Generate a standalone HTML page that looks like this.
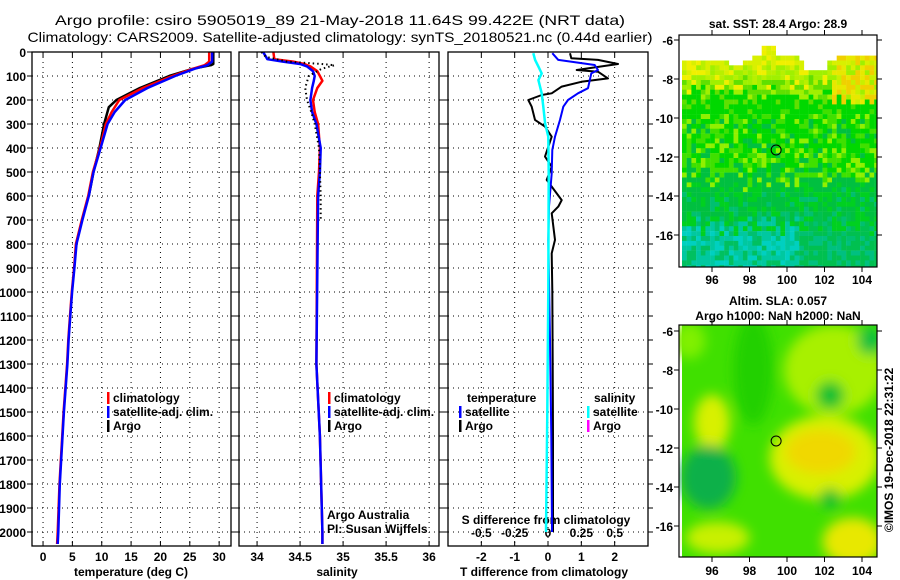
<!DOCTYPE html>
<html><head><meta charset="utf-8"><style>
html,body{margin:0;padding:0;background:#fff;}
svg{display:block;font-family:"Liberation Sans",sans-serif;}
.t{font-weight:bold;font-size:12px;}
</style></head><body>
<svg id="c" width="900" height="580" viewBox="0 0 900 580">
<defs>
<clipPath id="clipTop"><rect x="679" y="35" width="198" height="232"/></clipPath>
<clipPath id="clipBot"><rect x="679" y="325" width="198" height="232"/></clipPath>
<filter id="blur" x="-50%" y="-50%" width="200%" height="200%"><feGaussianBlur stdDeviation="6"/></filter>
</defs>
<text x="340" y="25" text-anchor="middle" font-size="14" textLength="570" lengthAdjust="spacingAndGlyphs">Argo profile: csiro 5905019_89 21-May-2018 11.64S 99.422E (NRT data)</text>
<text x="340" y="42" text-anchor="middle" font-size="14" textLength="625" lengthAdjust="spacingAndGlyphs">Climatology: CARS2009. Satellite-adjusted climatology: synTS_20180521.nc (0.44d earlier)</text>
<g id="plots"></g>
</svg>
<script>
// ---------- data ----------
const depthT = [0,40,55,70,100,150,200,250,300,400,500,600,700,800,900,1000,1100,1200,1300,1500,1800,2000,2050];
const climT = [28.3,28.3,27.5,25.5,22,17,13,11.7,10.7,9.7,8.5,7.7,6.6,5.6,5.3,4.9,4.6,4.3,4.1,3.5,2.8,2.5,2.4];
const satT  = [28.8,28.8,28,25.8,22.5,17.8,14,12.2,11,9.8,8.6,7.8,6.7,5.7,5.35,4.95,4.65,4.35,4.15,3.55,2.85,2.6,2.5];
const argoDepthT = [0,50,55,70,100,150,200,230,300,400,500,600];
const argoT = [29.0,29.0,28.6,25.5,21.5,16.5,12.5,11.2,10.4,9.6,8.6,7.8];
const depthS = [0,30,40,50,60,80,100,120,150,200,250,300,400,500,600,1300,1600,2000,2050];
const climS = [34.19,34.2,34.42,34.55,34.62,34.7,34.73,34.76,34.7,34.65,34.67,34.71,34.73,34.72,34.70,34.69,34.73,34.76,34.76];
const satS  = [34.07,34.12,34.3,34.5,34.58,34.65,34.67,34.66,34.64,34.62,34.64,34.69,34.74,34.73,34.71,34.69,34.73,34.76,34.76];
const argoDepthS = [0,20,40,50,55,70,100,150,200,250,300,400,500,600,700];
const argoS = [34.05,34.1,34.35,34.75,34.9,34.75,34.6,34.56,34.58,34.63,34.67,34.72,34.73,34.74,34.74];
const satDiffDepth = [5,33,54,75,89,151,172,200,228,283,353,408,506,644,783,1200,1600,2000];
const satDiffT = [0.13,0.31,1.4,1.5,1.3,1.2,0.9,0.6,0.46,0.36,0.21,0.13,0.11,0.03,0.01,0.06,0.1,0.12];
const argoDiffDepth = [5,26,33,50,75,82,110,124,144,172,179,200,228,283,311,353,436,478,533,617,644,672,783,839,992,1300,1600,2000];
const argoDiffT = [0.66,0.7,1.5,2.1,0.86,1.5,1.8,1.0,0.41,0.11,-0.19,-0.59,-0.49,-0.39,-0.09,0.11,-0.09,0.11,-0.04,0.41,0.31,0.11,0.21,0.11,0.13,0.14,0.15,0.15];
const satDiffSDepth = [5,33,61,89,117,172,228,297,353,506,992,1500,2000];
const satDiffS = [-0.11,-0.097,-0.072,-0.047,-0.072,-0.047,-0.035,-0.022,0.002,0.005,0.002,-0.005,-0.015];
const depthTicks = [0,100,200,300,400,500,600,700,800,900,1000,1100,1200,1300,1400,1500,1600,1700,1800,1900,2000];
const tTicks = [0,5,10,15,20,25,30];
const sTicks = [34,34.5,35,35.5,36];
const sTickLabels = ["34","34.5","35","35.5","36"];
const dTTicks = [-2,-1,0,1,2];
const dSTicks = [-0.5,-0.25,0,0.25,0.5];
const dSTickLabels = ["-0.5","-0.25","0","0.25","0.5"];
const lonTicks = [96,98,100,102,104];
const latTicks = [-6,-8,-10,-12,-14,-16];

const NS = "http://www.w3.org/2000/svg";
const root = document.getElementById('plots');
function mk(tag, attrs, parent){ const e=document.createElementNS(NS,tag); for(const k in attrs) e.setAttribute(k,attrs[k]); (parent||root).appendChild(e); return e; }
function txt(x,y,s,cls,anchor,parent){ const e=mk('text',{x:x,y:y,'text-anchor':anchor||'middle','class':cls||'t'},parent); e.textContent=s; return e; }

const TOP=52, BOT=546;
const yD = d => TOP + d*0.24;
const panels = [
  {x0:32,x1:231,min:-1.88,max:32.02},
  {x0:239,x1:439,min:33.79,max:36.115},
  {x0:448,x1:648,min:-3,max:3}
];
const sx = (p,v) => p.x0 + (v-p.min)/(p.max-p.min)*(p.x1-p.x0);

function grid(p, ticks){
  const g = mk('g',{});
  
  
  ticks.forEach(v=>{ const x=sx(p,v); mk('line',{x1:x,x2:x,y1:TOP,y2:BOT,stroke:'#000','stroke-width':1,'stroke-dasharray':'1,4'},g);
    mk('line',{x1:x,x2:x,y1:BOT,y2:BOT-5,stroke:'#000'},g); mk('line',{x1:x,x2:x,y1:TOP,y2:TOP+5,stroke:'#000'},g);});
  depthTicks.forEach(d=>{ if(d===0) return; const y=yD(d); mk('line',{x1:p.x0,x2:p.x1,y1:y,y2:y,stroke:'#000','stroke-width':1,'stroke-dasharray':'1,4'},g);
    mk('line',{x1:p.x0-5,x2:p.x0,y1:y,y2:y,stroke:'#000'},g); mk('line',{x1:p.x1,x2:p.x1+5,y1:y,y2:y,stroke:'#000'},g);});
}
function frame(p,name){ const r=mk('rect',{x:p.x0,y:TOP,width:p.x1-p.x0,height:BOT-TOP,fill:'none',stroke:'#000','stroke-width':1.3});
    }
function series(p, vals, depths, color, w, name, dash){
  let d=''; vals.forEach((v,i)=>{ d += (i?'L':'M') + sx(p,v).toFixed(1)+','+yD(depths[i]).toFixed(1); });
  const e = mk('path',{d:d,fill:'none',stroke:color,'stroke-width':w,'stroke-linejoin':'round'});
  if(dash) e.setAttribute('stroke-dasharray',dash);
  
  
}
function legendEntry(x,y,color,label,name){
  const g=mk('g',{});
  
  
  mk('rect',{x:x,y:y-10,width:2.5,height:12,fill:color},g);
  txt(x+6,y,label,'t','start',g);
}

const p1=panels[0], p2=panels[1], p3=panels[2];
grid(p1,tTicks); grid(p2,sTicks); grid(p3,dTTicks);
depthTicks.forEach(d=>{ const e=txt(26,yD(d)+5,String(d),'t','end');   });
mk('line',{x1:27,x2:32,y1:TOP,y2:TOP,stroke:'#000'});
tTicks.forEach(v=>{ const e=txt(sx(p1,v),561,String(v));   });
sTicks.forEach((v,i)=>{ const e=txt(sx(p2,v),561,sTickLabels[i]);   });
dTTicks.forEach(v=>{ const e=txt(sx(p3,v),561,String(v));   });
dSTicks.forEach((v,i)=>{ const e=txt(sx(p3,v*4),537,dSTickLabels[i]);   });
let e;
e=txt(131,576,'temperature (deg C)');  
e=txt(337,576,'salinity');  
e=txt(544,576,'T difference from climatology');  
e=txt(546,524,'S difference from climatology');  

series(p1,argoT,argoDepthT,'#000',2.5,'argo-temperature-line');
series(p1,climT,depthT,'#f00',2.5,'climatology-temperature-line');
series(p1,satT,depthT,'#00f',2.5,'satellite-temperature-line');
series(p2,climS,depthS,'#f00',2.5,'climatology-salinity-line');
series(p2,satS,depthS,'#00f',2.5,'satellite-salinity-line');
series(p2,argoS,argoDepthS,'#000',2,'argo-salinity-line','1.5,3');
series(p3,argoDiffT,argoDiffDepth,'#000',2,'argo-t-diff-line');
series(p3,satDiffT,satDiffDepth,'#00f',2,'satellite-t-diff-line');
series(p3,satDiffS.map(v=>v*4),satDiffSDepth,'#0ff',2.5,'satellite-s-diff-line');

frame(p1,'temperature-panel'); frame(p2,'salinity-panel'); frame(p3,'difference-panel');

legendEntry(107,402,'#f00','climatology','legend-climatology');
legendEntry(107,416,'#00f','satellite-adj. clim.','legend-satellite-adj');
legendEntry(107,430,'#000','Argo','legend-argo');
legendEntry(328,402,'#f00','climatology','legend-climatology-s');
legendEntry(328,416,'#00f','satellite-adj. clim.','legend-satellite-adj-s');
legendEntry(328,430,'#000','Argo','legend-argo-s');
e=txt(467,402,'temperature','t','start');  
legendEntry(459,416,'#00f','satellite','legend-t-satellite');
legendEntry(459,430,'#000','Argo','legend-t-argo');
e=txt(594,402,'salinity','t','start');  
legendEntry(587,416,'#0ff','satellite','legend-s-satellite');
legendEntry(587,430,'#f0f','Argo','legend-s-argo');
e=txt(327,519,'Argo Australia','', 'start'); e.setAttribute('font-size','12');  
e=txt(327,533,'PI: Susan Wijffels','', 'start'); e.setAttribute('font-size','12');  

// ---------- maps ----------
const lonX = lon => 712 + (lon-96)*18.75;
function latY(lat, top){ return top + (-6-lat)*19.5; }
function hash(i,j){ let h = ((i*73856093) ^ (j*19349663)) >>> 0; h = (h ^ (h>>>13)) * 1274126177 >>> 0; h = (h ^ (h>>>16)) >>> 0; return (h % 10007)/10007; }
function mapAxes(top, bottom, labelY, name){
  const g=mk('g',{});
  
  
  mk('rect',{x:679,y:bottom-232,width:198,height:232,fill:'none',stroke:'#000','stroke-width':1.2},g);
  lonTicks.forEach(l=>{ const x=lonX(l); mk('line',{x1:x,x2:x,y1:bottom,y2:bottom+5,stroke:'#000'},g); mk('line',{x1:x,x2:x,y1:bottom-232,y2:bottom-237,stroke:'#000'},g); txt(x,labelY,String(l),'t','middle',g); });
  latTicks.forEach(l=>{ const y=latY(l,top); mk('line',{x1:674,x2:679,y1:y,y2:y,stroke:'#000'},g); mk('line',{x1:877,x2:882,y1:y,y2:y,stroke:'#000'},g); txt(673,y+5,String(l),'t','end',g); });
}
const gTop = mk('g',{'clip-path':'url(#clipTop)'});


const topEdge = lon => (lon>=98.5&&lon<99.3)?-6.1:(lon>=98&&lon<100)?-6.6:(lon>=99.7&&lon<100.5)?-6.6:(lon<96.7)?-6.95:(lon<97.6)?-7.2:(lon<100.7)?-6.9:(lon<102)?-7.4:(lon<102.5)?-7.0:-6.7;
for(let i=0;i<42;i++){
  const lon = 94.4 + i*0.25;
  for(let j=0;j<48;j++){
    const lat = -5.8 - j*0.25;
    if(lat > topEdge(lon)) continue;
    const n=hash(i+3,j+7);
    const t = lat + (n-0.5)*1.6;
    let c;
    if(lon>102.3 && lat>-9.2 && n>0.25) c = n<0.55?'#f0d000':(n<0.8?'#e8e800':'#c8f000');
    else if(t>-7.8) c = n<0.5?'#d8f000':(n<0.8?'#b8f000':'#f0f000');
    else if(t>-9.3) c = n<0.35?'#a0f000':(n<0.7?'#60e000':'#00d800');
    else if(t>-13) c = n<0.45?'#00d800':(n<0.7?'#40e000':(n<0.85?'#90f000':'#00c040'));
    else if(t>-15.5) c = n<0.5?'#00c040':(n<0.8?'#00d020':'#00c070');
    else c = (lon<100.5)? (n<0.4?'#00c8a0':(n<0.7?'#00d0c0':'#00c060')) : (n<0.6?'#00c050':'#00c080');
    mk('rect',{x:lonX(lon).toFixed(1),y:latY(lat,40).toFixed(1),width:4.9,height:5.1,fill:c},gTop);
  }
}
mk('circle',{cx:lonX(99.42),cy:latY(-11.64,40),r:5,fill:'none',stroke:'#000','stroke-width':1},gTop);
mapAxes(40,267,284,'sst-map-axes');
e=txt(778,28,'sat. SST: 28.4 Argo: 28.9');  

const gB = mk('g',{'clip-path':'url(#clipBot)'});


mk('rect',{x:682,y:325,width:195,height:232,fill:'#40e000'},gB);
const gBl = mk('g',{filter:'url(#blur)'},gB);
const blob=(lon,lat,rx,ry,c)=>mk('ellipse',{cx:lonX(lon),cy:latY(lat,331),rx:rx,ry:ry,fill:c},gBl);
blob(102.5,-8,50,45,'#a8f000');
blob(94.8,-6.5,16,18,'#80f000');
blob(98.2,-8,20,55,'#20d000');
blob(96,-10.7,18,28,'#d8f000');
blob(102,-12.5,55,42,'#d8f000');
blob(101.8,-12.2,35,22,'#f0d800');
blob(102.3,-9.3,14,14,'#10c030');
blob(102.3,-14.6,11,10,'#10c030');
blob(95.8,-13.5,28,32,'#10b048');
blob(103.5,-16.8,30,24,'#e8e800');
blob(96.3,-16.6,32,16,'#c8f000');
blob(104.4,-6.5,12,14,'#10c040');
mk('circle',{cx:lonX(99.42),cy:latY(-11.64,331),r:5,fill:'none',stroke:'#000','stroke-width':1},gB);
mapAxes(331,557,575,'sla-map-axes');
e=txt(778,305,'Altim. SLA: 0.057');  
e=txt(778,320,'Argo h1000: NaN h2000: NaN');  
e=txt(0,0,'©IMOS 19-Dec-2018 22:31:22','', 'middle'); e.setAttribute('font-size','12');
e.setAttribute('transform','translate(893,450) rotate(-90)');
 
</script>
</body></html>
